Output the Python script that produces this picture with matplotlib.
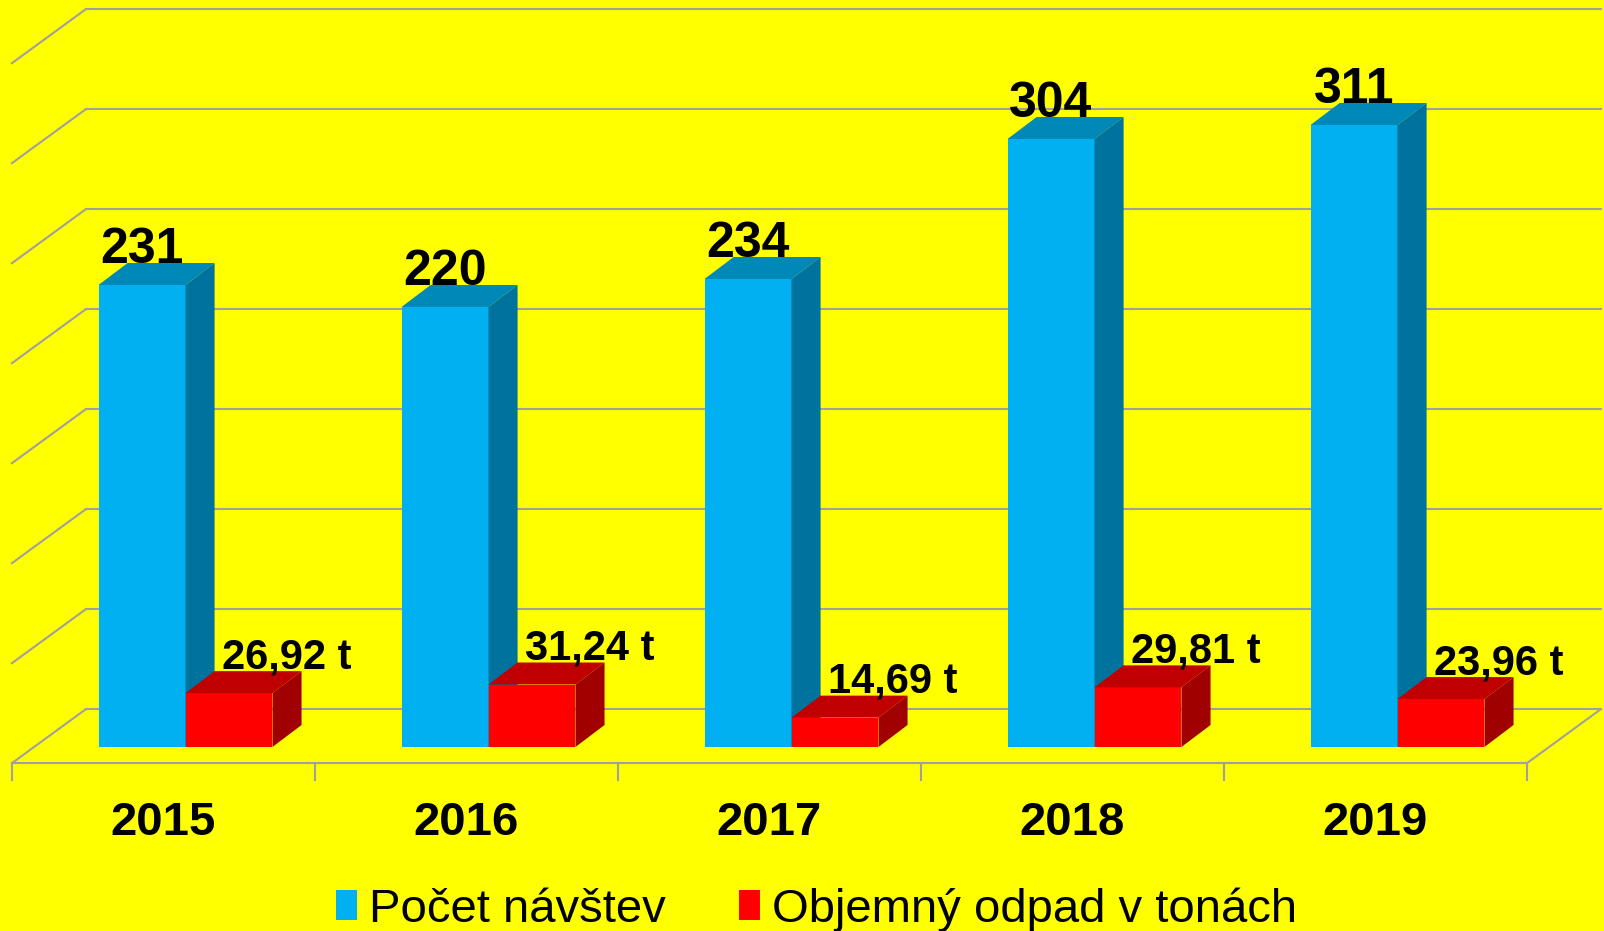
import matplotlib
matplotlib.use("Agg")
import matplotlib.pyplot as plt
from matplotlib.patches import Polygon
from matplotlib.lines import Line2D

plt.rcParams['font.family'] = ['Liberation Sans', 'DejaVu Sans']

# ---- data ----
years = ['2015', '2016', '2017', '2018', '2019']
visits = [231, 220, 234, 304, 311]
waste = [26.92, 31.24, 14.69, 29.81, 23.96]
series_names = ['Počet návštev', 'Objemný odpad v tonách']
gridvals = [0, 50, 100, 150, 200, 250, 300, 350]

# ---- style ----
BG = '#FFFF00'
BLUE = ('#00B0F0', '#0088B8', '#00729E')   # front, top, side
RED = ('#FF0000', '#C00000', '#A00000')
GRID = '#A0A0A0'
W = 0.287            # bar width (category units)
DX, DY = 0.096, 11.0  # bar depth offset (data units)
FX, FY = -0.073, -8.1  # front floor edge offset
BX, BY = 0.171, 18.9   # back wall offset

fig = plt.figure(figsize=(16.04, 9.31), dpi=100, facecolor=BG)
ax = fig.add_axes([34/1604, (931-747)/931, 1515/1604, 700/931])
ax.set_xlim(-0.5, 4.5)
ax.set_ylim(0, 350)
ax.axis('off')
ax.set_facecolor(BG)

lw = 1.5
# walls / gridlines
for v in gridvals:
    ax.add_line(Line2D([-0.5 + BX, 4.5 + BX], [v + BY, v + BY], color=GRID, lw=lw, clip_on=False, zorder=1))
    ax.add_line(Line2D([-0.5 + FX, -0.5 + BX], [v + FY, v + BY], color=GRID, lw=lw, clip_on=False, zorder=1))
# floor
ax.add_line(Line2D([-0.5 + FX, 4.5 + FX], [FY, FY], color=GRID, lw=lw, clip_on=False, zorder=1))
ax.add_line(Line2D([4.5 + FX, 4.5 + BX], [FY, BY], color=GRID, lw=lw, clip_on=False, zorder=1))
for k in range(len(years) + 1):
    ax.add_line(Line2D([k - 0.5 + FX, k - 0.5 + FX], [FY, FY - 8.5], color=GRID, lw=lw, clip_on=False, zorder=1))


def bar3d(x0, v, cols, z):
    x1 = x0 + W
    ax.add_patch(Polygon([(x0, 0), (x1, 0), (x1, v), (x0, v)], closed=True, fc=cols[0], ec='none', zorder=z, clip_on=False))
    ax.add_patch(Polygon([(x0, v), (x1, v), (x1 + DX, v + DY), (x0 + DX, v + DY)], closed=True, fc=cols[1], ec='none', zorder=z, clip_on=False))
    ax.add_patch(Polygon([(x1, 0), (x1 + DX, DY), (x1 + DX, v + DY), (x1, v)], closed=True, fc=cols[2], ec='none', zorder=z, clip_on=False))


for i, (a, b) in enumerate(zip(visits, waste)):
    bar3d(i - W, a, BLUE, 3)
    bar3d(i, b, RED, 4)
    ax.text(i - W / 2, a + DY, f'{a}', ha='center', va='baseline', fontsize=36,
            fontweight='bold', color='black', zorder=6, clip_on=False)
    ax.text(i + W / 2 + 0.19, b + 12.5, f'{b:.2f}'.replace('.', ',') + ' t', ha='center',
            va='baseline', fontsize=30, fontweight='bold', color='black', zorder=6, clip_on=False)
    ax.text(i + FX, -38, years[i], ha='center', va='center', fontsize=34,
            fontweight='bold', color='black', clip_on=False)

handles = [Polygon([(0, 0)], closed=True, fc=BLUE[0], ec='none'),
           Polygon([(0, 0)], closed=True, fc=RED[0], ec='none')]
leg = fig.legend(handles, series_names, loc='lower center', bbox_to_anchor=(0.509, -0.021),
                 ncol=2, frameon=False, fontsize=34, handlelength=0.45, handleheight=0.58,
                 handletextpad=0.25, columnspacing=1.55, borderaxespad=0)

fig.savefig('out.png', dpi=100, facecolor=BG)
